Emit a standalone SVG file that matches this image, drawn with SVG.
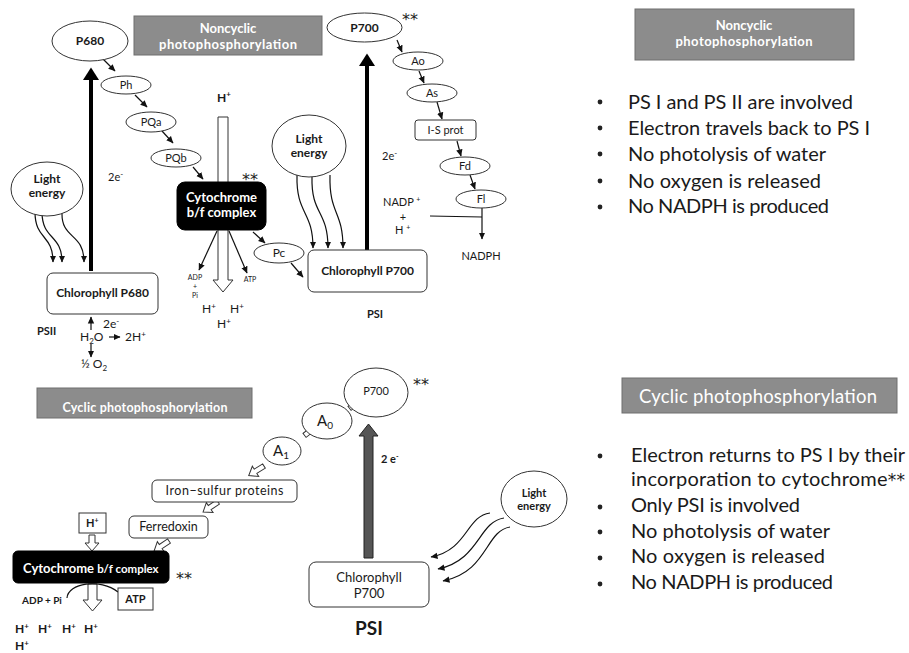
<svg xmlns="http://www.w3.org/2000/svg" width="909" height="653" viewBox="0 0 909 653">
<defs>
<style>
text{font-family:Lato,"Liberation Sans",sans-serif;fill:#1a1a1a}
.b{font-weight:bold}
.c{text-anchor:middle}
.w{fill:#fff}
.ast{font-family:"DejaVu Sans","Liberation Sans",sans-serif;font-size:16px;fill:#222}
.node{fill:#fff;stroke:#333;stroke-width:1}
.gray{fill:#8c8c8c;stroke:#6e6e6e;stroke-width:1}
.blk{fill:#000;stroke:#000}
.ln{fill:none;stroke:#111;stroke-width:1.2}
.thick{fill:none;stroke:#000;stroke-width:4}
.hol{fill:#fff;stroke:#333;stroke-width:1}
.bul{fill:#222}
.big{font-size:20px}
</style>
<marker id="ah" markerUnits="userSpaceOnUse" markerWidth="8" markerHeight="8" refX="6.5" refY="4" orient="auto"><path d="M0,0.8 L7,4 L0,7.2 z" fill="#111"/></marker>
<marker id="bigh" markerUnits="userSpaceOnUse" markerWidth="14" markerHeight="18" refX="0" refY="8" orient="auto"><path d="M0,0 L12.5,8 L0,16 z" fill="#000"/></marker>
<path id="ha" d="M0,-2.5 H10 V-6 L18,0 L10,6 V2.5 H0 z"/>
<path id="hs" d="M0,-2.5 H12 V2.5 H0 z"/>
</defs>

<!-- connectors -->
<g id="connectors">
  <!-- top left chain -->
  <path class="ln" d="M102,58 L115,71" marker-end="url(#ah)"/>
  <path class="ln" d="M135,95 L147,107" marker-end="url(#ah)"/>
  <path class="ln" d="M162,131 L173,143" marker-end="url(#ah)"/>
  <path class="ln" d="M193,167 L203,179" marker-end="url(#ah)"/>
  <polygon class="hol" points="218,117 228,117 228,280 233,280 223,292 213,280 218,280"/>
  <path class="ln" stroke-width="0.8" d="M217,231 L199,270" marker-end="url(#ah)"/>
  <path class="ln" stroke-width="0.8" d="M229,231 L247,273" marker-end="url(#ah)"/>
  <path class="ln" d="M253,232 L265,243" marker-end="url(#ah)"/>
  <path class="ln" d="M291,263 L303,277" marker-end="url(#ah)"/>
  <path class="thick" d="M91,271 L91,80" marker-end="url(#bigh)"/>
  <path class="ln" d="M35,212 C35,240 53,234 53,262" marker-end="url(#ah)"/>
  <path class="ln" d="M42,212 C42,240 62,234 62,262" marker-end="url(#ah)"/>
  <path class="ln" d="M62,212 C61,240 84,232 84,262" marker-end="url(#ah)"/>
  <path class="ln" stroke-width="0.9" d="M91,330 L91,317" marker-end="url(#ah)"/>
  <path class="ln" stroke-width="0.9" d="M91,344 L91,357" marker-end="url(#ah)"/>
  <path class="ln" stroke-width="0.9" d="M109,337 L120,337" marker-end="url(#ah)"/>
  <!-- top right chain -->
  <path class="ln" d="M397,40 L402,52" marker-end="url(#ah)"/>
  <path class="ln" d="M419,71 L424,83" marker-end="url(#ah)"/>
  <path class="ln" d="M437,102 L442,119" marker-end="url(#ah)"/>
  <path class="ln" d="M457,141 L461,156" marker-end="url(#ah)"/>
  <path class="ln" d="M470,175 L475,189" marker-end="url(#ah)"/>
  <path class="ln" d="M430,216 L482,217"/>
  <path class="ln" d="M482,208 L482,239" marker-end="url(#ah)"/>
  <path class="thick" d="M367,250 L367,66" marker-end="url(#bigh)"/>
  <path class="ln" d="M297,175 C296,215 313,210 313,248" marker-end="url(#ah)"/>
  <path class="ln" d="M312,177 C311,215 328,210 328,248" marker-end="url(#ah)"/>
  <path class="ln" d="M330,175 C329,215 343,210 343,248" marker-end="url(#ah)"/>
  <!-- bottom -->
  <use href="#hs" class="hol" transform="translate(359,401) rotate(142)"/>
  <use href="#hs" class="hol" transform="translate(314,428) rotate(142)"/>
  <use href="#ha" class="hol" transform="translate(264,466) rotate(148)"/>
  <use href="#ha" class="hol" transform="translate(218,502) rotate(146)"/>
  <use href="#ha" class="hol" transform="translate(169,541) rotate(146)"/>
  <polygon class="hol" points="89,535 95,535 95,543 99,543 92,551 85,543 89,543"/>
  <polygon class="hol" points="88,584 97,584 97,600 102,600 92.5,611 83,600 88,600"/>
  <path class="ln" stroke-width="1" d="M67,598 C68,583 100,578 118,592"/>
  <polygon fill="#555" stroke="#222" stroke-width="1" points="364,558 373,558 373,436 378,436 368.5,424 359,436 364,436"/>
  <path class="ln" d="M490,513 C466,516 468,550 431,557" marker-end="url(#ah)"/>
  <path class="ln" d="M504,518 C478,522 480,560 438,569" marker-end="url(#ah)"/>
  <path class="ln" d="M510,527 C485,531 488,572 443,581" marker-end="url(#ah)"/>
</g>

<!-- top left -->
<g id="title-noncyclic-left">
  <rect class="gray" x="134" y="16" width="188" height="39"/>
  <text class="b c w" x="228" y="33" font-size="13">Noncyclic</text>
  <text class="b c w" x="228" y="49" font-size="13" textLength="138">photophosphorylation</text>
</g>
<g id="p680"><ellipse class="node" cx="90" cy="41" rx="38" ry="20"/><text class="b c" x="90" y="45" font-size="12">P680</text></g>
<g id="ph"><ellipse class="node" cx="126" cy="85" rx="25" ry="9"/><text class="c" x="126" y="89" font-size="11">Ph</text></g>
<g id="pqa"><ellipse class="node" cx="151" cy="122" rx="25" ry="10"/><text class="c" x="151" y="126" font-size="11">PQa</text></g>
<g id="pqb"><ellipse class="node" cx="176" cy="158" rx="25" ry="9"/><text class="c" x="176" y="162" font-size="11">PQb</text></g>
<g id="hplus-top"><text class="b" x="217" y="102" font-size="12">H<tspan font-size="8" dy="-5">+</tspan></text></g>
<g id="cytochrome-top">
  <rect class="blk" x="177" y="182" width="89" height="48" rx="8"/>
  <text class="b c w" x="221.5" y="202" font-size="13">Cytochrome</text>
  <text class="b c w" x="221.5" y="217" font-size="13">b/f complex</text>
  <text class="ast c" x="250" y="185">**</text>
</g>
<g id="label-2e-left"><text x="108" y="181" font-size="11">2e<tspan font-size="8" dy="-4">-</tspan></text></g>
<g id="light1">
  <ellipse class="node" cx="47" cy="189" rx="36" ry="27"/>
  <text class="b c" x="47" y="183" font-size="12">Light</text>
  <text class="b c" x="47" y="197" font-size="12">energy</text>
</g>
<g id="chl680">
  <rect class="node" x="47" y="273" width="111" height="41" rx="6"/>
  <text class="b c" x="102.5" y="297" font-size="12">Chlorophyll P680</text>
</g>
<g id="psii"><text class="b" x="37" y="335" font-size="11">PSII</text></g>
<g id="water">
  <text x="103" y="328" font-size="12">2e<tspan font-size="8" dy="-4">-</tspan></text>
  <text x="80" y="341" font-size="12">H<tspan font-size="8" dy="3">2</tspan><tspan dy="-3">O</tspan></text>
  <text x="125" y="341" font-size="12">2H<tspan font-size="8" dy="-4">+</tspan></text>
  <text x="81" y="368" font-size="12">½ O<tspan font-size="8" dy="3">2</tspan></text>
</g>
<g id="adp-atp-top">
  <text class="c" x="195" y="280" font-size="7">ADP</text>
  <text class="c" x="195" y="289" font-size="7">+</text>
  <text class="c" x="195" y="298" font-size="7">Pi</text>
  <text class="c" x="250" y="282" font-size="7">ATP</text>
</g>
<g id="hplus-out-top">
  <text x="202" y="313" font-size="12">H<tspan font-size="8" dy="-4">+</tspan></text>
  <text x="230" y="313" font-size="12">H<tspan font-size="8" dy="-4">+</tspan></text>
  <text x="217" y="328" font-size="12">H<tspan font-size="8" dy="-4">+</tspan></text>
</g>
<g id="pc"><ellipse class="node" cx="279" cy="253" rx="25" ry="10"/><text class="c" x="279" y="257" font-size="12">Pc</text></g>

<!-- top right diagram -->
<g id="p700-top">
  <ellipse class="node" cx="364.5" cy="27.5" rx="37.5" ry="14.5"/>
  <text class="b c" x="364.5" y="32" font-size="12">P700</text>
  <text class="ast c" x="410" y="25">**</text>
</g>
<g id="ao"><ellipse class="node" cx="418" cy="61" rx="25" ry="9"/><text class="c" x="418" y="65" font-size="11">Ao</text></g>
<g id="as"><ellipse class="node" cx="432" cy="93" rx="25" ry="9"/><text class="c" x="432" y="97" font-size="11">As</text></g>
<g id="isprot"><rect class="node" x="415" y="120" width="61" height="20" rx="3"/><text class="c" x="445.5" y="134" font-size="11">I-S prot</text></g>
<g id="fd"><ellipse class="node" cx="465" cy="166" rx="25" ry="9"/><text class="c" x="465" y="170" font-size="11">Fd</text></g>
<g id="fl"><ellipse class="node" cx="481" cy="199" rx="25" ry="9"/><text class="c" x="481" y="203" font-size="11">Fl</text></g>
<g id="label-2e-mid"><text x="382" y="160" font-size="11">2e<tspan font-size="8" dy="-4">-</tspan></text></g>
<g id="nadp">
  <text x="383" y="206" font-size="11">NADP <tspan font-size="7" dy="-4">+</tspan></text>
  <text class="c" x="403" y="221" font-size="11">+</text>
  <text x="395" y="234" font-size="11">H <tspan font-size="7" dy="-4">+</tspan></text>
  <text class="c" x="481" y="260" font-size="11">NADPH</text>
</g>
<g id="light2">
  <ellipse class="node" cx="309" cy="146" rx="37" ry="31"/>
  <text class="b c" x="309" y="143" font-size="12">Light</text>
  <text class="b c" x="309" y="157" font-size="12">energy</text>
</g>
<g id="chl700-top">
  <rect class="node" x="308" y="250" width="119" height="42" rx="6"/>
  <text class="b c" x="367.5" y="275" font-size="12">Chlorophyll P700</text>
</g>
<g id="psi-top"><text class="b c" x="375" y="318" font-size="11">PSI</text></g>

<!-- top right text panel -->
<g id="title-noncyclic-right">
  <rect class="gray" x="635" y="9" width="219" height="51"/>
  <text class="b c w" x="744" y="30" font-size="13">Noncyclic</text>
  <text class="b c w" x="744" y="46" font-size="13" textLength="137">photophosphorylation</text>
</g>
<g id="bullets-noncyclic">
  <circle class="bul" cx="600" cy="102" r="2.4"/><text class="big" x="628" y="109" textLength="225">PS I and PS II are involved</text>
  <circle class="bul" cx="600" cy="128" r="2.4"/><text class="big" x="628" y="135" textLength="242">Electron travels back to PS I</text>
  <circle class="bul" cx="600" cy="154" r="2.4"/><text class="big" x="628" y="161" textLength="198">No photolysis of water</text>
  <circle class="bul" cx="600" cy="181" r="2.4"/><text class="big" x="628" y="188" textLength="193">No oxygen is released</text>
  <circle class="bul" cx="600" cy="207" r="2.4"/><text class="big" x="628" y="213" textLength="201">No NADPH is produced</text>
</g>

<!-- bottom left -->
<g id="title-cyclic-left">
  <rect class="gray" x="37" y="388" width="215" height="30"/>
  <text class="b c w" x="145" y="412" font-size="12.5" textLength="165">Cyclic photophosphorylation</text>
</g>
<g id="p700-bottom">
  <ellipse class="node" cx="376" cy="392.5" rx="32" ry="24.5"/>
  <text class="c" x="376" y="395" font-size="11">P700</text>
  <text class="ast c" x="421" y="390">**</text>
</g>
<g id="a0"><ellipse class="node" cx="327" cy="421" rx="25" ry="18"/><text class="c" x="325" y="426" font-size="15">A<tspan font-size="10" dy="3">0</tspan></text></g>
<g id="a1"><ellipse class="node" cx="282" cy="451" rx="19" ry="14"/><text class="c" x="281" y="456" font-size="15">A<tspan font-size="10" dy="3">1</tspan></text></g>
<g id="iron"><rect class="node" x="152" y="480" width="145" height="22" rx="5"/><text class="c" x="224.5" y="495" font-size="12.5" textLength="118">Iron−sulfur proteins</text></g>
<g id="ferredoxin"><rect class="node" x="129" y="516" width="79" height="22" rx="5"/><text class="c" x="168.5" y="531" font-size="12.5">Ferredoxin</text></g>
<g id="hbox"><rect fill="#fff" stroke="#333" x="79" y="513" width="27" height="20"/><text class="b" x="86" y="527" font-size="11">H<tspan font-size="7" dy="-4">+</tspan></text></g>
<g id="cytochrome-bottom">
  <rect class="blk" x="13" y="551" width="156" height="32" rx="5"/>
  <text class="b w" x="23" y="573" font-size="13">Cytochrome <tspan font-size="11.5">b/f complex</tspan></text>
  <text class="ast c" x="184" y="584">**</text>
</g>
<g id="adp-bottom"><text class="b c" x="42" y="604" font-size="10">ADP + Pi</text></g>
<g id="atp-bottom"><rect fill="#fff" stroke="#333" x="118" y="588" width="35" height="22"/><text class="b c" x="135.5" y="603" font-size="11">ATP</text></g>
<g id="hplus-bottom">
  <text class="b" x="15" y="633" font-size="12">H<tspan font-size="8" dy="-4">+</tspan></text>
  <text class="b" x="38" y="633" font-size="12">H<tspan font-size="8" dy="-4">+</tspan></text>
  <text class="b" x="62" y="633" font-size="12">H<tspan font-size="8" dy="-4">+</tspan></text>
  <text class="b" x="84" y="633" font-size="12">H<tspan font-size="8" dy="-4">+</tspan></text>
  <text class="b" x="15" y="650" font-size="12">H<tspan font-size="8" dy="-4">+</tspan></text>
</g>
<g id="label-2e-bottom"><text class="b" x="381" y="463" font-size="11">2 e<tspan font-size="7" dy="-4">-</tspan></text></g>
<g id="chl700-bottom">
  <rect class="node" x="309" y="562" width="120" height="45" rx="7"/>
  <text class="c" x="369" y="582" font-size="13">Chlorophyll</text>
  <text class="c" x="369" y="598" font-size="13">P700</text>
</g>
<g id="psi-bottom"><text class="b c" x="369" y="635" font-size="19">PSI</text></g>
<g id="light3">
  <ellipse class="node" cx="534" cy="499" rx="33" ry="28"/>
  <text class="b c" x="534" y="497" font-size="11">Light</text>
  <text class="b c" x="534" y="510" font-size="11">energy</text>
</g>

<!-- bottom right text panel -->
<g id="title-cyclic-right">
  <rect class="gray" x="622" y="378" width="275" height="35"/>
  <text class="c w" x="758" y="403" font-size="18.5" textLength="238">Cyclic photophosphorylation</text>
</g>
<g id="bullets-cyclic">
  <circle class="bul" cx="600" cy="456" r="2.4"/><text class="big" x="631" y="462" textLength="274">Electron returns to PS I by their</text>
  <text class="big" x="631" y="486" textLength="274">incorporation to cytochrome<tspan font-family="DejaVu Sans" font-size="17">**</tspan></text>
  <circle class="bul" cx="600" cy="507" r="2.4"/><text class="big" x="631" y="512" textLength="169">Only PSI is involved</text>
  <circle class="bul" cx="600" cy="532" r="2.4"/><text class="big" x="631" y="538" textLength="199">No photolysis of water</text>
  <circle class="bul" cx="600" cy="558" r="2.4"/><text class="big" x="631" y="563" textLength="194">No oxygen is released</text>
  <circle class="bul" cx="600" cy="584" r="2.4"/><text class="big" x="631" y="589" textLength="202">No NADPH is produced</text>
</g>
</svg>
